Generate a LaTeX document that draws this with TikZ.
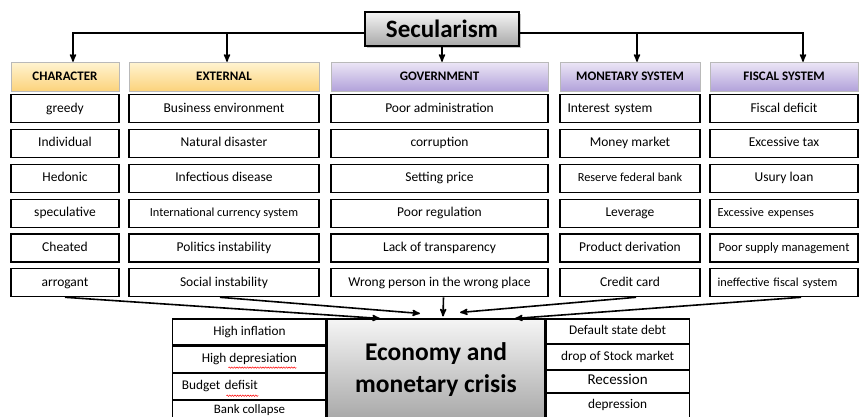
\documentclass[tikz,border=0pt]{standalone}
\usepackage{fontspec}
\setmainfont{Carlito}
\usepackage{tikz}
\usetikzlibrary{positioning,arrows,shadows,decorations.pathmorphing}

\definecolor{yellowtop}{HTML}{FFF4D2}
\definecolor{yellowbot}{HTML}{FCD37C}
\definecolor{purpletop}{HTML}{ECE6F6}
\definecolor{purplebot}{HTML}{B2A2DA}
\definecolor{greytop}{HTML}{F5F5F5}
\definecolor{greybot}{HTML}{A8A8A8}

\tikzset{
  factor/.style={draw,line width=1.1pt,minimum height=28pt,inner sep=4pt,text height=9.5pt,text depth=3pt,font=\fontsize{13.5}{15}\selectfont},
  smalltext/.style={font=\fontsize{12.3}{14}\selectfont},
  lefttext/.style={text width=#1,align=left,inner xsep=7pt},
  header/.style={draw=gray!55,minimum height=29pt,font=\bfseries\fontsize{13}{15}\selectfont},
  yellowhead/.style={header,top color=yellowtop,bottom color=yellowbot},
  purplehead/.style={header,top color=purpletop,bottom color=purplebot},
  charcol/.style={minimum width=108pt},
  extcol/.style={minimum width=190pt},
  govcol/.style={minimum width=217pt},
  moncol/.style={minimum width=140pt},
  fiscol/.style={minimum width=148pt},
  rootbox/.style={draw,line width=1.1pt,top color=greytop,bottom color=greybot,
    drop shadow={shadow xshift=2pt,shadow yshift=-2pt,opacity=0.45}},
  effect/.style={draw,line width=1.1pt,inner sep=3pt,text height=9pt,text depth=2.5pt,font=\fontsize{13.3}{15}\selectfont},
  conn/.style={->,>=stealth',line width=1.6pt},
  spellwave/.style={red,line width=0.5pt,decorate,decoration={snake,amplitude=0.7pt,segment length=2.6pt}},
}

\begin{document}
\begin{tikzpicture}[x=1pt,y=-1pt,node distance=5.7pt]
\useasboundingbox (0,0) rectangle (862,416);

\node[rootbox,minimum width=154pt,minimum height=34pt,font=\bfseries\fontsize{25}{27}\selectfont] (sec) at (442,29) {Secularism};

% headers
\node[yellowhead,charcol] (char) at (65,76.5) {CHARACTER};
\node[yellowhead,extcol] (ext) at (224,76.5) {EXTERNAL};
\node[purplehead,govcol] (gov) at (439.5,76.5) {GOVERNMENT};
\node[purplehead,moncol] (mon) at (630,76.5) {MONETARY SYSTEM};
\node[purplehead,fiscol] (fis) at (784,76.5) {FISCAL SYSTEM};

% character
\node[factor,charcol] (c1) [below=3pt of char] {greedy};
\node[factor,charcol] (c2) [below=of c1] {Individual};
\node[factor,charcol] (c3) [below=of c2] {Hedonic};
\node[factor,charcol] (c4) [below=of c3] {speculative};
\node[factor,charcol] (c5) [below=of c4] {Cheated};
\node[factor,charcol] (c6) [below=of c5] {arrogant};

% external
\node[factor,extcol] (e1) [below=3pt of ext] {Business environment};
\node[factor,extcol] (e2) [below=of e1] {Natural disaster};
\node[factor,extcol] (e3) [below=of e2] {Infectious disease};
\node[factor,extcol,smalltext] (e4) [below=of e3] {International currency system};
\node[factor,extcol] (e5) [below=of e4] {Politics instability};
\node[factor,extcol] (e6) [below=of e5] {Social instability};

% government
\node[factor,govcol] (g1) [below=3pt of gov] {Poor administration};
\node[factor,govcol] (g2) [below=of g1] {corruption};
\node[factor,govcol] (g3) [below=of g2] {Setting price};
\node[factor,govcol] (g4) [below=of g3] {Poor regulation};
\node[factor,govcol] (g5) [below=of g4] {Lack of transparency};
\node[factor,govcol] (g6) [below=of g5] {Wrong person in the wrong place};

% monetary system
\node[factor,moncol,lefttext=125pt] (m1) [below=3pt of mon] {Interest system};
\node[factor,moncol] (m2) [below=of m1] {Money market};
\node[factor,moncol,smalltext] (m3) [below=of m2] {Reserve federal bank};
\node[factor,moncol] (m4) [below=of m3] {Leverage};
\node[factor,moncol] (m5) [below=of m4] {Product derivation};
\node[factor,moncol] (m6) [below=of m5] {Credit card};

% fiscal system
\node[factor,fiscol] (f1) [below=3pt of fis] {Fiscal deficit};
\node[factor,fiscol] (f2) [below=of f1] {Excessive tax};
\node[factor,fiscol] (f3) [below=of f2] {Usury loan};
\node[factor,fiscol,smalltext,lefttext=133pt] (f4) [below=of f3] {Excessive expenses};
\node[factor,fiscol,font=\fontsize{12.6}{14}\selectfont] (f5) [below=of f4] {Poor supply management};
\node[factor,fiscol,smalltext,lefttext=133pt] (f6) [below=of f5] {ineffective fiscal system};

% crisis
\node[rootbox,minimum width=218pt,minimum height=101pt,align=center,font=\bfseries\fontsize{25.5}{32}\selectfont] (eco) at (436,369.5) {Economy and\\monetary crisis};

\node[effect,minimum width=153pt,minimum height=26pt] (l1) [below left=0pt and 0pt of eco.north west] {High inflation};
\node[effect,minimum width=153pt,minimum height=26pt] (l2) [below=0pt of l1] {High depresiation};
\node[effect,minimum width=153pt,minimum height=26pt,lefttext=135pt,inner xsep=9pt] (l3) [below=0pt of l2] {Budget defisit};
\node[effect,minimum width=153pt,minimum height=20pt,font=\fontsize{12.9}{14}\selectfont] (l4) [below=0pt of l3] {Bank collapse};

\node[effect,minimum width=143pt,minimum height=24.5pt] (r1) [below right=0pt and 0pt of eco.north east] {Default state debt};
\node[effect,minimum width=143pt,minimum height=24.5pt] (r2) [below=0pt of r1] {drop of Stock market};
\node[effect,minimum width=143pt,minimum height=22pt,text height=10pt,font=\fontsize{15}{17}\selectfont] (r3) [below=0pt of r2] {Recession};
\node[effect,minimum width=143pt,minimum height=24.5pt] (r4) [below=0pt of r3] {depression};

% spell-check marks
\draw[spellwave] ([xshift=-21,yshift=-8.5]l2.center) -- ([xshift=47,yshift=-8.5]l2.center);
\draw[spellwave] ([xshift=-23,yshift=-9.5]l3.center) -- ([xshift=9,yshift=-9.5]l3.center);

% links
\draw[conn] ([yshift=-4]sec.west) -| ([xshift=8]char.north);
\draw[conn] ([yshift=-4]sec.west) -| ([xshift=3]ext.north);
\draw[conn] (sec.south) -- (sec.south |- gov.north);
\draw[conn] ([yshift=-4]sec.east) -| ([xshift=7]mon.north);
\draw[conn] ([yshift=-4]sec.east) -| ([xshift=19]fis.north);

\draw[conn] (c6.south) -- ([xshift=-56]eco.north);
\draw[conn] ([xshift=-4]e6.south) -- ([xshift=-16,yshift=5]eco.north);
\draw[conn] ([xshift=4]g6.south) -- ([xshift=7,yshift=2]eco.north);
\draw[conn] ([xshift=6]m6.south) -- ([xshift=24,yshift=6]eco.north);
\draw[conn] ([xshift=17]f6.south) -- ([xshift=79]eco.north);
\end{tikzpicture}
\end{document}
